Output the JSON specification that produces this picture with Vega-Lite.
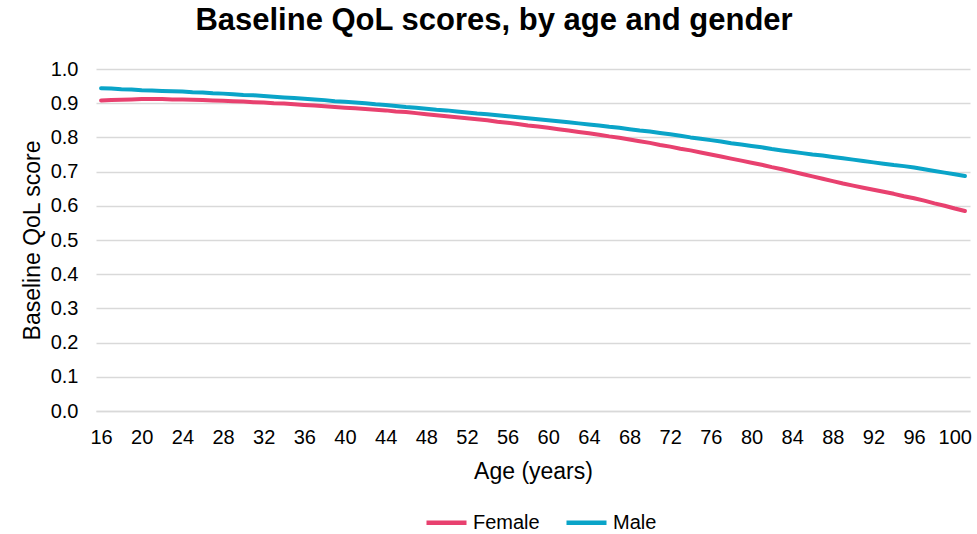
{
  "$schema": "https://vega.github.io/schema/vega-lite/v6.json",
  "width": 874,
  "height": 342,
  "autosize": "none",
  "padding": {"left": 96, "top": 69, "right": 7, "bottom": 123},
  "background": "white",
  "config": {
    "font": "Liberation Sans",
    "view": {"stroke": null},
    "axis": {"labelFont": "Liberation Sans", "titleFont": "Liberation Sans", "labelColor": "#000000", "titleColor": "#000000", "titleFontWeight": "normal"}
  },
  "title": {
    "text": "Baseline QoL scores, by age and gender",
    "font": "Liberation Sans",
    "fontSize": 31,
    "fontWeight": "bold",
    "color": "#000000",
    "anchor": "middle",
    "dx": -39,
    "offset": 22
  },
  "data": {"values": [
    {"age":16,"gender":"Female","score":0.908},{"age":17,"gender":"Female","score":0.909},{"age":18,"gender":"Female","score":0.910},{"age":19,"gender":"Female","score":0.911},{"age":20,"gender":"Female","score":0.912},{"age":21,"gender":"Female","score":0.912},{"age":22,"gender":"Female","score":0.912},{"age":23,"gender":"Female","score":0.911},{"age":24,"gender":"Female","score":0.911},{"age":25,"gender":"Female","score":0.910},
    {"age":26,"gender":"Female","score":0.909},{"age":27,"gender":"Female","score":0.908},{"age":28,"gender":"Female","score":0.907},{"age":29,"gender":"Female","score":0.906},{"age":30,"gender":"Female","score":0.905},{"age":31,"gender":"Female","score":0.903},{"age":32,"gender":"Female","score":0.902},{"age":33,"gender":"Female","score":0.900},{"age":34,"gender":"Female","score":0.899},{"age":35,"gender":"Female","score":0.897},
    {"age":36,"gender":"Female","score":0.895},{"age":37,"gender":"Female","score":0.893},{"age":38,"gender":"Female","score":0.891},{"age":39,"gender":"Female","score":0.889},{"age":40,"gender":"Female","score":0.887},{"age":41,"gender":"Female","score":0.885},{"age":42,"gender":"Female","score":0.883},{"age":43,"gender":"Female","score":0.881},{"age":44,"gender":"Female","score":0.879},{"age":45,"gender":"Female","score":0.876},
    {"age":46,"gender":"Female","score":0.874},{"age":47,"gender":"Female","score":0.871},{"age":48,"gender":"Female","score":0.868},{"age":49,"gender":"Female","score":0.865},{"age":50,"gender":"Female","score":0.862},{"age":51,"gender":"Female","score":0.859},{"age":52,"gender":"Female","score":0.856},{"age":53,"gender":"Female","score":0.853},{"age":54,"gender":"Female","score":0.850},{"age":55,"gender":"Female","score":0.846},
    {"age":56,"gender":"Female","score":0.843},{"age":57,"gender":"Female","score":0.839},{"age":58,"gender":"Female","score":0.835},{"age":59,"gender":"Female","score":0.832},{"age":60,"gender":"Female","score":0.828},{"age":61,"gender":"Female","score":0.824},{"age":62,"gender":"Female","score":0.820},{"age":63,"gender":"Female","score":0.816},{"age":64,"gender":"Female","score":0.812},{"age":65,"gender":"Female","score":0.808},
    {"age":66,"gender":"Female","score":0.803},{"age":67,"gender":"Female","score":0.799},{"age":68,"gender":"Female","score":0.794},{"age":69,"gender":"Female","score":0.789},{"age":70,"gender":"Female","score":0.784},{"age":71,"gender":"Female","score":0.778},{"age":72,"gender":"Female","score":0.773},{"age":73,"gender":"Female","score":0.767},{"age":74,"gender":"Female","score":0.762},{"age":75,"gender":"Female","score":0.756},
    {"age":76,"gender":"Female","score":0.750},{"age":77,"gender":"Female","score":0.744},{"age":78,"gender":"Female","score":0.738},{"age":79,"gender":"Female","score":0.732},{"age":80,"gender":"Female","score":0.726},{"age":81,"gender":"Female","score":0.720},{"age":82,"gender":"Female","score":0.713},{"age":83,"gender":"Female","score":0.707},{"age":84,"gender":"Female","score":0.700},{"age":85,"gender":"Female","score":0.693},
    {"age":86,"gender":"Female","score":0.686},{"age":87,"gender":"Female","score":0.679},{"age":88,"gender":"Female","score":0.672},{"age":89,"gender":"Female","score":0.665},{"age":90,"gender":"Female","score":0.659},{"age":91,"gender":"Female","score":0.653},{"age":92,"gender":"Female","score":0.647},{"age":93,"gender":"Female","score":0.641},{"age":94,"gender":"Female","score":0.635},{"age":95,"gender":"Female","score":0.628},
    {"age":96,"gender":"Female","score":0.622},{"age":97,"gender":"Female","score":0.615},{"age":98,"gender":"Female","score":0.607},{"age":99,"gender":"Female","score":0.600},{"age":100,"gender":"Female","score":0.592},{"age":101,"gender":"Female","score":0.585},
    {"age":16,"gender":"Male","score":0.944},{"age":17,"gender":"Male","score":0.943},{"age":18,"gender":"Male","score":0.941},{"age":19,"gender":"Male","score":0.940},{"age":20,"gender":"Male","score":0.938},{"age":21,"gender":"Male","score":0.937},{"age":22,"gender":"Male","score":0.936},{"age":23,"gender":"Male","score":0.935},{"age":24,"gender":"Male","score":0.934},{"age":25,"gender":"Male","score":0.932},
    {"age":26,"gender":"Male","score":0.931},{"age":27,"gender":"Male","score":0.929},{"age":28,"gender":"Male","score":0.928},{"age":29,"gender":"Male","score":0.926},{"age":30,"gender":"Male","score":0.924},{"age":31,"gender":"Male","score":0.923},{"age":32,"gender":"Male","score":0.921},{"age":33,"gender":"Male","score":0.919},{"age":34,"gender":"Male","score":0.917},{"age":35,"gender":"Male","score":0.915},
    {"age":36,"gender":"Male","score":0.913},{"age":37,"gender":"Male","score":0.911},{"age":38,"gender":"Male","score":0.909},{"age":39,"gender":"Male","score":0.906},{"age":40,"gender":"Male","score":0.904},{"age":41,"gender":"Male","score":0.902},{"age":42,"gender":"Male","score":0.900},{"age":43,"gender":"Male","score":0.897},{"age":44,"gender":"Male","score":0.895},{"age":45,"gender":"Male","score":0.892},
    {"age":46,"gender":"Male","score":0.889},{"age":47,"gender":"Male","score":0.887},{"age":48,"gender":"Male","score":0.884},{"age":49,"gender":"Male","score":0.881},{"age":50,"gender":"Male","score":0.879},{"age":51,"gender":"Male","score":0.876},{"age":52,"gender":"Male","score":0.873},{"age":53,"gender":"Male","score":0.870},{"age":54,"gender":"Male","score":0.868},{"age":55,"gender":"Male","score":0.865},
    {"age":56,"gender":"Male","score":0.862},{"age":57,"gender":"Male","score":0.859},{"age":58,"gender":"Male","score":0.856},{"age":59,"gender":"Male","score":0.853},{"age":60,"gender":"Male","score":0.850},{"age":61,"gender":"Male","score":0.847},{"age":62,"gender":"Male","score":0.844},{"age":63,"gender":"Male","score":0.841},{"age":64,"gender":"Male","score":0.838},{"age":65,"gender":"Male","score":0.835},
    {"age":66,"gender":"Male","score":0.831},{"age":67,"gender":"Male","score":0.828},{"age":68,"gender":"Male","score":0.824},{"age":69,"gender":"Male","score":0.820},{"age":70,"gender":"Male","score":0.817},{"age":71,"gender":"Male","score":0.813},{"age":72,"gender":"Male","score":0.809},{"age":73,"gender":"Male","score":0.805},{"age":74,"gender":"Male","score":0.800},{"age":75,"gender":"Male","score":0.796},
    {"age":76,"gender":"Male","score":0.792},{"age":77,"gender":"Male","score":0.788},{"age":78,"gender":"Male","score":0.783},{"age":79,"gender":"Male","score":0.779},{"age":80,"gender":"Male","score":0.775},{"age":81,"gender":"Male","score":0.771},{"age":82,"gender":"Male","score":0.766},{"age":83,"gender":"Male","score":0.762},{"age":84,"gender":"Male","score":0.758},{"age":85,"gender":"Male","score":0.754},
    {"age":86,"gender":"Male","score":0.750},{"age":87,"gender":"Male","score":0.747},{"age":88,"gender":"Male","score":0.743},{"age":89,"gender":"Male","score":0.739},{"age":90,"gender":"Male","score":0.735},{"age":91,"gender":"Male","score":0.731},{"age":92,"gender":"Male","score":0.727},{"age":93,"gender":"Male","score":0.723},{"age":94,"gender":"Male","score":0.719},{"age":95,"gender":"Male","score":0.716},
    {"age":96,"gender":"Male","score":0.712},{"age":97,"gender":"Male","score":0.707},{"age":98,"gender":"Male","score":0.702},{"age":99,"gender":"Male","score":0.697},{"age":100,"gender":"Male","score":0.692},{"age":101,"gender":"Male","score":0.687}
  ]},
  "mark": {"type": "line", "strokeWidth": 4, "strokeCap": "round", "strokeJoin": "round"},
  "encoding": {
    "x": {
      "field": "age", "type": "quantitative",
      "scale": {"domain": [15.5, 101.5], "nice": false, "zero": false},
      "axis": {
        "title": "Age (years)", "titleFontSize": 23, "titlePadding": 13,
        "values": [16,20,24,28,32,36,40,44,48,52,56,60,64,68,72,76,80,84,88,92,96,100],
        "labelFontSize": 20, "labelPadding": 16, "ticks": false, "grid": false,
        "domain": true, "domainColor": "#d9d9d9", "domainWidth": 1.5,
        "labelFlush": false, "labelOverlap": false
      }
    },
    "y": {
      "field": "score", "type": "quantitative",
      "scale": {"domain": [0, 1], "nice": false},
      "axis": {
        "title": "Baseline QoL score", "titleFontSize": 23, "titlePadding": 6,
        "values": [0,0.1,0.2,0.3,0.4,0.5,0.6,0.7,0.8,0.9,1.0], "format": ".1f",
        "labelFontSize": 20, "labelPadding": 18, "ticks": false, "domain": false,
        "grid": true, "gridColor": "#d9d9d9", "gridWidth": 1.5
      }
    },
    "color": {
      "field": "gender", "type": "nominal",
      "scale": {"domain": ["Female", "Male"], "range": ["#E8416F", "#0AA4C8"]},
      "legend": {
        "title": null, "orient": "none", "direction": "horizontal",
        "legendX": 328, "legendY": 431,
        "symbolType": "stroke", "symbolSize": 1600, "symbolStrokeWidth": 4.5,
        "labelFontSize": 20, "labelColor": "#000000", "labelOffset": 4, "columnPadding": 17
      }
    }
  }
}
